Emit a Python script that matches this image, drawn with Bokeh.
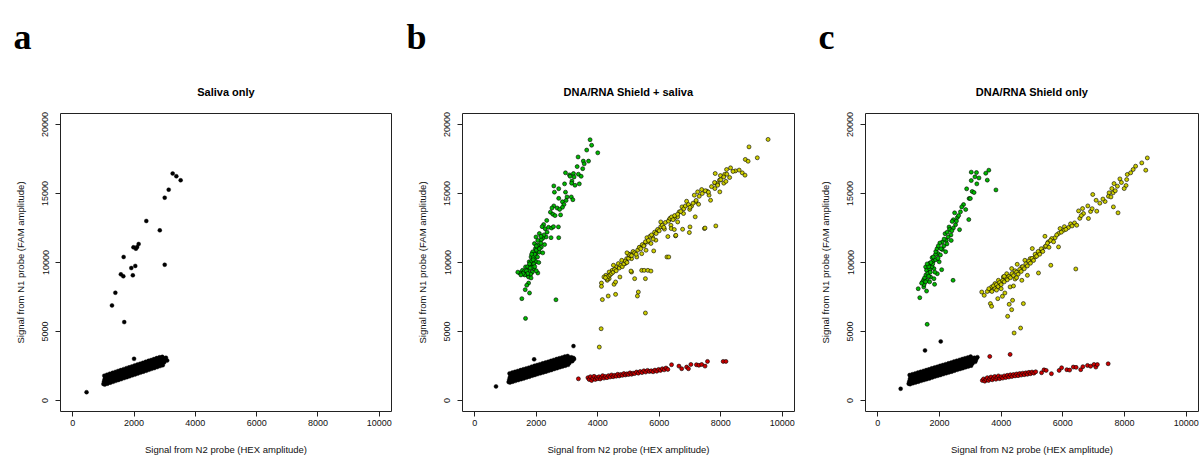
from bokeh.plotting import figure
from bokeh.models import Range1d, FixedTicker, Title
from bokeh.layouts import row
from bokeh.embed import file_html
from bokeh.resources import INLINE

# ---------------- data ----------------
X_TICKS = [0, 2000, 4000, 6000, 8000, 10000]
Y_TICKS = [0, 5000, 10000, 15000, 20000]
X_LABEL = "Signal from N2 probe (HEX amplitude)"
Y_LABEL = "Signal from N1 probe (FAM amplitude)"
TITLES = ["Saliva only", "DNA/RNA Shield + saliva", "DNA/RNA Shield only"]
LETTERS = ["a", "b", "c"]

# Panel a: saliva only (all droplets black)
a_black = [
    (1000, 1200), (1020, 1370), (1040, 1540), (1060, 1700), (1090, 1270), (1110, 1430), (1130, 1600),
    (1150, 1770), (1180, 1330), (1200, 1500), (1220, 1670), (1240, 1840), (1270, 1400), (1290, 1570),
    (1310, 1740), (1330, 1900), (1360, 1470), (1380, 1630), (1400, 1800), (1420, 1970), (1450, 1530),
    (1470, 1700), (1490, 1870), (1510, 2030), (1540, 1600), (1560, 1770), (1580, 1930), (1600, 2100),
    (1630, 1670), (1650, 1830), (1670, 2000), (1690, 2170), (1720, 1730), (1740, 1900), (1760, 2070),
    (1780, 2230), (1810, 1800), (1830, 1960), (1850, 2130), (1870, 2300), (1900, 1870), (1920, 2030),
    (1940, 2200), (1960, 2370), (1990, 1930), (2010, 2100), (2030, 2270), (2050, 2430), (2080, 2000),
    (2100, 2160), (2120, 2330), (2140, 2500), (2170, 2070), (2190, 2230), (2210, 2400), (2230, 2570),
    (2260, 2130), (2280, 2300), (2300, 2470), (2320, 2630), (2350, 2200), (2370, 2360), (2390, 2530),
    (2410, 2700), (2440, 2270), (2460, 2430), (2480, 2600), (2500, 2770), (2530, 2330), (2550, 2500),
    (2570, 2670), (2590, 2830), (2620, 2400), (2640, 2560), (2660, 2730), (2680, 2900), (2710, 2470),
    (2730, 2630), (2750, 2800), (2770, 2960), (2800, 2530), (2820, 2700), (2840, 2870), (2860, 3030),
    (2890, 2620), (2910, 2770), (2930, 2930), (2950, 3080), (2980, 2750), (3000, 2880), (3020, 3000),
    (3040, 3100), (3080, 2900),
    (1030, 1800), (1120, 1870), (1210, 1940), (1300, 2000), (1390, 2070), (1480, 2140), (1570, 2200),
    (1660, 2270), (1750, 2340), (1840, 2400), (1930, 2470), (2020, 2540), (2110, 2600), (2200, 2670),
    (2290, 2730), (2380, 2800), (2470, 2870), (2560, 2930), (2650, 3000), (2740, 3070), (2830, 3130),
    (2920, 3160),
    (1045, 1150), (1135, 1220), (1225, 1290), (1315, 1350), (1405, 1420), (1495, 1490), (1585, 1550),
    (1675, 1620), (1765, 1690), (1855, 1750), (1945, 1820), (2035, 1890), (2125, 1950), (2215, 2020),
    (2305, 2090), (2395, 2150), (2485, 2220), (2575, 2290), (2665, 2350), (2755, 2420), (2845, 2490),
    (2935, 2550),
    (450, 600), (2000, 3020), (3260, 16450), (3380, 16250), (3520, 15960), (3130, 15280),
    (3000, 14700), (2400, 13010), (2840, 12330), (2150, 11340), (1980, 11100), (2060, 11000),
    (2100, 11120), (1660, 10400), (2040, 9750), (3000, 9840), (1910, 9600), (1570, 9140), (1650, 9000),
    (1960, 9070), (1390, 7810), (1280, 6890), (1680, 5680),
]

# Panel b: DNA/RNA Shield + saliva
b_black = [
    (1100, 1340), (1120, 1500), (1140, 1670), (1160, 1840), (1190, 1400), (1210, 1560), (1230, 1730),
    (1250, 1900), (1280, 1460), (1300, 1620), (1320, 1790), (1340, 1960), (1370, 1520), (1390, 1690),
    (1410, 1850), (1430, 2020), (1460, 1580), (1480, 1750), (1500, 1920), (1520, 2080), (1550, 1640),
    (1570, 1810), (1590, 1980), (1610, 2140), (1640, 1700), (1660, 1870), (1680, 2040), (1700, 2200),
    (1730, 1760), (1750, 1930), (1770, 2100), (1790, 2260), (1820, 1830), (1840, 1990), (1860, 2160),
    (1880, 2330), (1910, 1890), (1930, 2050), (1950, 2220), (1970, 2390), (2000, 1950), (2020, 2110),
    (2040, 2280), (2060, 2450), (2090, 2010), (2110, 2170), (2130, 2340), (2150, 2510), (2180, 2070),
    (2200, 2240), (2220, 2400), (2240, 2570), (2270, 2130), (2290, 2300), (2310, 2470), (2330, 2630),
    (2360, 2190), (2380, 2360), (2400, 2530), (2420, 2690), (2450, 2250), (2470, 2420), (2490, 2590),
    (2510, 2750), (2540, 2320), (2560, 2480), (2580, 2650), (2600, 2820), (2630, 2380), (2650, 2540),
    (2670, 2710), (2690, 2880), (2720, 2440), (2740, 2600), (2760, 2770), (2780, 2940), (2810, 2500),
    (2830, 2660), (2850, 2830), (2870, 3000), (2900, 2560), (2920, 2730), (2940, 2890), (2960, 3060),
    (2990, 2620), (3010, 2790), (3030, 2960), (3050, 3120), (3080, 2720), (3100, 2860), (3120, 3000),
    (3140, 3130), (3170, 2850), (3190, 2970), (3210, 3080), (3230, 3000),
    (1130, 1960), (1220, 2020), (1310, 2080), (1400, 2140), (1490, 2200), (1580, 2260), (1670, 2320),
    (1760, 2380), (1850, 2450), (1940, 2510), (2030, 2570), (2120, 2630), (2210, 2690), (2300, 2750),
    (2390, 2810), (2480, 2870), (2570, 2940), (2660, 3000), (2750, 3060), (2840, 3120), (2930, 3180),
    (3020, 3220),
    (1145, 1300), (1235, 1360), (1325, 1420), (1415, 1480), (1505, 1540), (1595, 1600), (1685, 1660),
    (1775, 1720), (1865, 1790), (1955, 1850), (2045, 1910), (2135, 1970), (2225, 2030), (2315, 2090),
    (2405, 2150), (2495, 2210), (2585, 2280), (2675, 2340), (2765, 2400), (2855, 2460), (2945, 2520),
    (3035, 2580),
    (690, 1020), (1930, 2980), (3210, 3940),
]
b_red = [
    (3370, 1570), (3680, 1650), (3720, 1520), (3760, 1720), (3800, 1450), (3840, 1600), (3880, 1750),
    (3920, 1520), (3960, 1660), (4000, 1580), (4040, 1720), (4080, 1560), (4120, 1680), (4160, 1800),
    (4200, 1620), (4250, 1740), (4300, 1650), (4350, 1800), (4400, 1700), (4450, 1850), (4500, 1720),
    (4550, 1820), (4600, 1760), (4650, 1900), (4700, 1780), (4750, 1880), (4800, 1820), (4850, 1950),
    (4900, 1850), (4950, 1930), (5000, 1880), (5050, 2000), (5100, 1900), (5150, 1980), (5200, 1950),
    (5260, 2060), (5320, 1980), (5380, 2100), (5440, 2020), (5500, 2150), (5560, 2060), (5620, 2180),
    (5680, 2100), (5740, 2150), (5800, 2080), (5860, 2200), (5920, 2120), (5980, 2250), (6040, 2180),
    (6100, 2300), (6160, 2220), (6220, 2350), (6280, 2250), (6400, 2590), (6640, 2490), (6730, 2300),
    (6890, 2420), (6950, 2300), (7030, 2610), (7210, 2590), (7290, 2550), (7380, 2610), (7490, 2490),
    (7570, 2830), (8080, 2830), (8170, 2830),
]
b_green = [
    (3750, 18900), (3800, 18500), (3640, 18150), (4000, 17950), (3360, 17650), (3530, 17350),
    (3700, 17350), (3560, 17150), (3330, 16950), (3510, 16800), (2950, 16500), (3080, 16350),
    (3210, 16450), (3370, 16400), (3460, 16250), (3230, 16200), (3100, 16250), (3160, 15900),
    (2570, 15550), (2920, 15700), (3150, 15750), (3260, 15600), (3400, 15700), (2730, 15350),
    (2950, 15100), (2590, 15100), (3000, 14750), (3140, 14750), (3190, 14550), (2730, 14650),
    (2850, 14400), (2970, 14500), (2900, 14200), (2850, 14000), (2570, 14100), (2680, 13950),
    (2760, 13850), (2510, 13950), (2460, 13650), (2540, 13500), (2610, 13400), (2790, 13450),
    (2340, 13050), (2240, 12750), (2190, 12600), (2290, 12450), (2400, 12550), (2500, 12500),
    (2560, 12600), (2720, 12580), (2100, 12100), (1990, 11850), (2320, 11850), (2210, 11750),
    (2160, 11650), (2480, 11800), (2730, 11800), (1940, 11370), (2050, 11250), (2160, 11100),
    (2270, 11300), (1970, 11000), (1880, 10770), (1990, 10650), (2100, 10750), (2210, 10700),
    (1830, 10400), (1940, 10250), (1770, 10050), (1880, 9950), (1990, 10050), (2080, 10000),
    (1650, 9680), (1550, 9430), (1460, 9240), (1600, 9330), (1760, 9450), (1920, 9550), (1870, 9300),
    (1710, 9070), (1750, 8950), (1820, 9150), (2050, 9240), (1830, 8880), (1750, 8510), (1690, 8350),
    (1640, 8030), (1780, 7790), (1530, 7380), (2640, 7300), (1650, 5950),
    (1800, 9800), (1850, 10100), (1900, 10400), (1950, 10600), (2000, 10900), (1720, 9700),
    (1780, 9900), (1860, 9650), (1920, 9900), (2040, 10400), (2100, 11000), (1680, 9400),
    (1800, 9600), (1900, 10200), (2000, 11200), (2150, 11400), (2050, 11600), (2250, 12000),
    (2350, 12200), (2150, 11900), (1850, 10600), (1720, 9200), (1620, 9100), (1570, 9200),
    (1400, 9300), (1500, 9100), (1950, 9700), (2000, 9400),
]
b_yellow = [
    (9540, 18920), (8920, 18380), (8800, 17470), (8890, 17340), (9190, 17590), (8320, 16860),
    (8190, 16740), (8480, 16640), (8700, 16500), (8790, 16330), (7820, 16450), (7990, 16300),
    (8130, 16390), (8290, 16160), (7960, 15970), (7820, 15750), (7900, 15700), (8100, 15750),
    (8170, 15880), (7810, 15360), (7970, 15120), (7380, 15290), (7250, 15120), (7550, 15170),
    (7620, 14880), (7670, 14510), (7140, 14880), (6890, 14440), (7190, 14400), (7280, 14220),
    (7050, 14080), (6990, 13850), (6740, 14030), (6650, 13670), (6790, 13550), (6600, 13310),
    (6490, 13190), (6330, 13110), (6600, 12940), (6050, 12940), (6380, 12700), (6110, 12580),
    (5950, 12340), (6170, 12420), (6390, 12460), (6490, 12390), (6760, 12410), (6980, 12170),
    (7170, 13310), (7470, 12460), (7840, 12650), (6530, 11930), (6280, 11880), (5780, 11860),
    (5890, 11620), (5730, 11380), (5620, 11490), (5510, 11260), (5570, 10890), (5430, 10640),
    (5270, 10400), (5380, 11100), (5100, 10280), (4940, 10280), (5050, 10600), (4890, 9920),
    (4780, 10160), (4670, 9920), (4590, 9680), (4510, 9800), (4470, 9430), (4370, 9310),
    (4260, 9070), (4200, 8950), (4370, 8830), (4310, 8710), (4120, 8510), (4120, 8270),
    (4530, 8420), (4580, 8590), (4720, 8950), (5100, 9310), (5430, 9430), (5510, 9430),
    (5630, 9430), (5550, 8830), (5200, 8830), (5820, 10840), (6250, 10400), (4340, 7570),
    (4580, 7690), (4150, 7310), (5320, 7860), (5290, 7570), (4050, 3870), (4110, 5200),
    (5550, 6340), (6310, 10400), (7000, 12580), (7490, 12500), (6540, 11970), (5730, 9380),
    (5080, 9380),
    (4300, 8800), (4350, 9000), (4400, 9100), (4250, 8900), (4450, 9200), (4500, 9300), (4550, 9500),
    (4600, 9400), (4700, 9600), (4750, 9800), (4800, 9700), (4850, 9900), (4900, 10100), (4950, 10000),
    (5000, 10300), (5050, 10500), (5000, 10600), (4950, 10700), (5100, 10500), (5150, 10800),
    (5200, 10700), (5250, 10600), (5300, 10900), (5350, 11100), (5400, 11000), (5450, 11300),
    (5500, 11200), (5550, 11500), (5600, 11800), (5650, 11600), (5700, 11900), (5750, 12000),
    (5800, 11700), (5850, 12200), (5900, 12100), (5950, 12400), (6000, 12300), (6050, 12600),
    (6100, 12700), (6150, 12550), (6200, 12900), (6300, 13000), (6350, 13200), (6400, 13300),
    (6450, 13100), (6500, 13400), (6600, 13500), (6700, 13700), (6800, 13900), (6850, 14100),
    (6950, 14200), (7000, 14000), (7100, 14300), (7200, 14500), (7300, 14800), (7400, 15000),
    (7500, 15200), (7600, 15100), (7700, 15500), (7800, 15800), (7900, 15600), (8000, 16000),
    (8100, 16200), (8200, 16400), (8400, 16600), (8600, 16700),
]

# Panel c: DNA/RNA Shield only
c_black = [
    (1000, 1220), (1020, 1380), (1040, 1550), (1060, 1710), (1090, 1280), (1110, 1440), (1130, 1610),
    (1150, 1780), (1180, 1340), (1200, 1500), (1220, 1670), (1240, 1840), (1270, 1400), (1290, 1570),
    (1310, 1730), (1330, 1900), (1360, 1460), (1380, 1630), (1400, 1800), (1420, 1960), (1450, 1520),
    (1470, 1690), (1490, 1860), (1510, 2020), (1540, 1580), (1560, 1750), (1580, 1920), (1600, 2080),
    (1630, 1640), (1650, 1810), (1670, 1980), (1690, 2140), (1720, 1710), (1740, 1870), (1760, 2040),
    (1780, 2210), (1810, 1770), (1830, 1930), (1850, 2100), (1870, 2270), (1900, 1830), (1920, 1990),
    (1940, 2160), (1960, 2330), (1990, 1890), (2010, 2060), (2030, 2220), (2050, 2390), (2080, 1950),
    (2100, 2120), (2120, 2290), (2140, 2450), (2170, 2010), (2190, 2180), (2210, 2350), (2230, 2510),
    (2260, 2070), (2280, 2240), (2300, 2410), (2320, 2570), (2350, 2130), (2370, 2300), (2390, 2470),
    (2410, 2630), (2440, 2200), (2460, 2360), (2480, 2530), (2500, 2700), (2530, 2260), (2550, 2420),
    (2570, 2590), (2590, 2760), (2620, 2320), (2640, 2480), (2660, 2650), (2680, 2820), (2710, 2380),
    (2730, 2550), (2750, 2710), (2770, 2880), (2800, 2440), (2820, 2610), (2840, 2770), (2860, 2940),
    (2890, 2500), (2910, 2670), (2930, 2840), (2950, 3000), (2980, 2560), (3000, 2730), (3020, 2900),
    (3040, 3060), (3070, 2680), (3090, 2820), (3110, 2960), (3130, 3100), (3160, 2800), (3180, 2930),
    (3200, 3050), (3230, 3140),
    (1030, 1840), (1120, 1900), (1210, 1960), (1300, 2020), (1390, 2080), (1480, 2140), (1570, 2200),
    (1660, 2260), (1750, 2330), (1840, 2390), (1930, 2450), (2020, 2510), (2110, 2570), (2200, 2630),
    (2290, 2690), (2380, 2750), (2470, 2820), (2560, 2880), (2650, 2940), (2740, 3000), (2830, 3060),
    (2920, 3120), (3010, 3180),
    (1045, 1180), (1135, 1240), (1225, 1300), (1315, 1360), (1405, 1420), (1495, 1480), (1585, 1540),
    (1675, 1600), (1765, 1670), (1855, 1730), (1945, 1790), (2035, 1850), (2125, 1910), (2215, 1970),
    (2305, 2030), (2395, 2090), (2485, 2160), (2575, 2220), (2665, 2280), (2755, 2340), (2845, 2400),
    (2935, 2460), (3025, 2520),
    (740, 850), (1530, 3630), (2040, 4280),
]
c_red = [
    (3630, 3190), (4290, 3340), (3390, 1450), (3430, 1560), (3470, 1400), (3510, 1520), (3550, 1650),
    (3590, 1450), (3630, 1580), (3670, 1700), (3710, 1500), (3750, 1620), (3790, 1740), (3830, 1540),
    (3870, 1680), (3910, 1780), (3950, 1580), (4000, 1720), (4050, 1620), (4100, 1780), (4150, 1660),
    (4200, 1820), (4250, 1700), (4300, 1860), (4350, 1740), (4400, 1880), (4450, 1780), (4500, 1920),
    (4550, 1800), (4600, 1950), (4650, 1840), (4700, 1980), (4750, 1870), (4800, 2000), (4850, 1900),
    (4900, 2040), (4950, 1940), (5000, 2060), (5060, 1980), (5120, 2080), (5310, 2010), (5390, 2220),
    (5460, 2180), (5630, 1940), (5880, 2180), (5960, 2370), (6130, 2230), (6220, 2200), (6340, 2420),
    (6430, 2400), (6580, 2230), (6650, 2450), (6800, 2540), (6900, 2480), (7010, 2610), (7070, 2420),
    (7120, 2600), (7470, 2660),
]
c_green = [
    (3030, 16550), (3200, 16520), (3600, 16690), (3500, 16470), (3150, 16210), (3280, 16130),
    (3030, 15940), (3550, 15970), (3210, 15700), (3830, 15260), (2880, 15340), (3060, 15150),
    (3120, 15070), (2960, 14640), (3000, 14640), (2780, 14200), (2720, 14030), (2850, 13840),
    (2680, 13670), (2490, 13600), (2950, 13110), (2580, 13260), (2450, 13100), (2410, 12980),
    (2520, 12740), (2310, 12570), (2450, 12500), (2650, 12380), (2180, 12090), (2370, 12000),
    (2280, 11850), (2220, 11600), (2090, 11480), (2380, 11600), (2240, 11350), (2010, 11410),
    (2140, 11200), (2090, 10940), (1950, 10650), (2200, 10780), (2030, 10550), (1870, 10580),
    (1760, 10350), (1800, 10110), (1690, 9960), (1870, 10200), (1990, 10050), (2070, 9480),
    (1550, 9680), (1580, 9430), (1690, 9500), (1820, 9560), (1930, 9190), (1490, 8760), (1600, 8710),
    (1710, 8950), (1820, 8830), (1840, 8420), (1490, 8220), (1310, 8100), (1580, 7930), (1360, 7450),
    (2440, 8710), (1600, 5520),
    (1450, 8600), (1520, 8900), (1560, 9100), (1620, 9200), (1650, 9000), (1700, 9300), (1750, 9700),
    (1780, 9900), (1650, 9700), (1720, 10000), (1800, 10400), (1880, 10800), (1920, 11000),
    (1500, 8400), (1550, 8600), (1600, 9900), (1850, 9300), (1950, 10300), (2050, 11000),
    (2150, 11700), (2250, 12200), (2330, 12400), (2550, 13000), (2620, 13400), (2400, 12300),
    (1960, 11200), (1420, 8500), (1680, 8600),
]
c_yellow = [
    (8740, 17580), (8690, 16690), (8560, 17220), (8360, 16980), (8280, 16740), (8090, 16380),
    (8070, 16010), (7850, 16060), (7660, 15720), (7770, 15530), (8050, 15580), (7990, 15360),
    (7590, 15360), (7630, 15050), (7500, 15050), (7480, 14800), (7560, 14750), (6970, 14930),
    (7080, 14510), (7370, 14420), (7640, 14030), (7790, 13600), (6810, 14100), (6640, 13910),
    (6510, 13740), (6670, 13550), (6830, 13190), (7100, 13720), (6380, 12870), (6450, 12700),
    (6180, 12530), (6030, 12340), (5910, 12460), (5860, 12100), (5640, 11740), (5530, 11490),
    (5420, 11900), (5860, 11130), (5420, 11130), (5320, 10890), (5210, 10650), (5010, 11010),
    (5100, 10400), (4940, 10280), (4770, 10160), (4670, 9680), (4520, 9870), (4340, 9560),
    (4450, 9400), (4180, 9190), (4070, 8950), (3910, 8710), (3800, 8470), (3690, 8230), (3640, 7980),
    (3370, 7860), (3450, 7620), (3890, 7380), (4040, 7550), (4120, 7790), (4290, 8230), (4400, 8300),
    (4670, 8710), (4850, 9070), (5210, 9240), (5610, 9800), (6420, 9530), (3650, 7020), (3690, 6820),
    (4260, 6970), (4370, 7260), (4720, 7020), (4340, 6580), (4210, 6100), (4630, 5250), (4420, 4890),
    (3550, 7900), (3600, 8100), (3700, 7900), (3750, 8300), (3800, 8100), (3850, 8400), (3900, 8250),
    (3950, 8550), (4000, 8400), (4050, 8700), (4100, 8600), (4150, 8900), (4200, 8750), (4250, 9000),
    (4300, 8900), (4350, 9200), (4400, 9050), (4450, 8800), (4500, 9300), (4550, 9150), (4600, 9500),
    (4650, 9350), (4700, 9700), (4750, 9550), (4800, 9900), (4850, 9750), (4900, 10100), (4950, 9950),
    (5000, 10300), (5050, 10150), (5100, 10600), (5150, 10450), (5200, 10800), (5250, 10600),
    (5300, 11000), (5350, 10800), (5450, 11200), (5500, 11400), (5550, 11100), (5600, 11600),
    (5700, 11500), (5750, 11800), (5800, 12000), (5950, 12200), (6050, 12600), (6100, 12400),
    (6250, 12800), (6300, 12650), (6550, 13200), (6600, 13400), (6900, 13700), (6950, 13900),
    (7200, 14300), (7300, 14600), (7700, 15200), (7900, 15800), (8200, 16500), (4100, 9000),
    (4500, 8900), (4000, 8100), (3850, 8000),
]

PANELS = [
    [(a_black, "black")],
    [(b_black, "black"), (b_red, "red"), (b_green, "green"), (b_yellow, "yellow")],
    [(c_black, "black"), (c_red, "red"), (c_green, "green"), (c_yellow, "yellow")],
]
FILL = {"black": "#000000", "red": "#CD0000", "green": "#00B800", "yellow": "#CDCD00"}

# ---------------- layout ----------------
FONT = "Liberation Sans"
H = 457
TOP, BOTTOM = 113, 46
# (width, left border, right border, letter offset relative to frame left)
GEOM = [(400, 60, 9, -47), (400, 62, 6, -56), (400, 65, 2, -47)]


def make_panel(i):
    w, left, right, lx = GEOM[i]
    p = figure(width=w, height=H, x_range=Range1d(-400, 10400), y_range=Range1d(-800, 20800),
               output_backend="svg", toolbar_location=None,
               min_border_left=left, min_border_right=right,
               min_border_top=TOP, min_border_bottom=BOTTOM)
    p.xgrid.visible = False
    p.ygrid.visible = False
    p.outline_line_color = "#222222"
    p.outline_line_width = 1
    p.background_fill_color = "white"
    p.border_fill_color = "white"

    # outermost title: the panel letter
    p.title.text = LETTERS[i]
    p.title.align = "left"
    p.title.offset = lx
    p.title.standoff = 22
    p.title.text_font = "Liberation Serif"
    p.title.text_font_style = "bold"
    p.title.text_font_size = "36px"
    p.title.text_color = "black"

    # title next to the frame: the chart title
    p.add_layout(Title(text=TITLES[i], align="center", standoff=32,
                       text_font=FONT, text_font_style="bold",
                       text_font_size="11px", text_color="black"), "above")

    for ax, ticks in ((p.xaxis[0], X_TICKS), (p.yaxis[0], Y_TICKS)):
        ax.ticker = FixedTicker(ticks=ticks)
        ax.axis_line_color = None
        ax.minor_tick_line_color = None
        ax.major_tick_in = 0
        ax.major_tick_out = 5
        ax.major_tick_line_color = "#222222"
        ax.major_label_text_font = FONT
        ax.major_label_text_font_size = "9px"
        ax.major_label_text_color = "#111111"
        ax.axis_label_text_font = FONT
        ax.axis_label_text_font_size = "9.5px"
        ax.axis_label_text_font_style = "normal"
        ax.axis_label_text_color = "#111111"
    p.xaxis.major_label_standoff = 3
    p.xaxis.axis_label = X_LABEL
    p.xaxis.axis_label_standoff = 15
    p.yaxis.axis_label = Y_LABEL
    p.yaxis.major_label_orientation = "vertical"
    p.yaxis.major_label_standoff = 7
    p.yaxis.axis_label_standoff = 14

    for pts, col in PANELS[i]:
        xs = [q[0] for q in pts]
        ys = [q[1] for q in pts]
        if col == "black":
            p.scatter(xs, ys, size=4, fill_color="black", line_color="black", line_width=0.4)
        else:
            p.scatter(xs, ys, size=4, fill_color=FILL[col], line_color="black", line_width=0.6)
    return p


figs = [make_panel(i) for i in range(3)]
layout = row(*figs)
open("out.html", "w").write(file_html(layout, INLINE))
